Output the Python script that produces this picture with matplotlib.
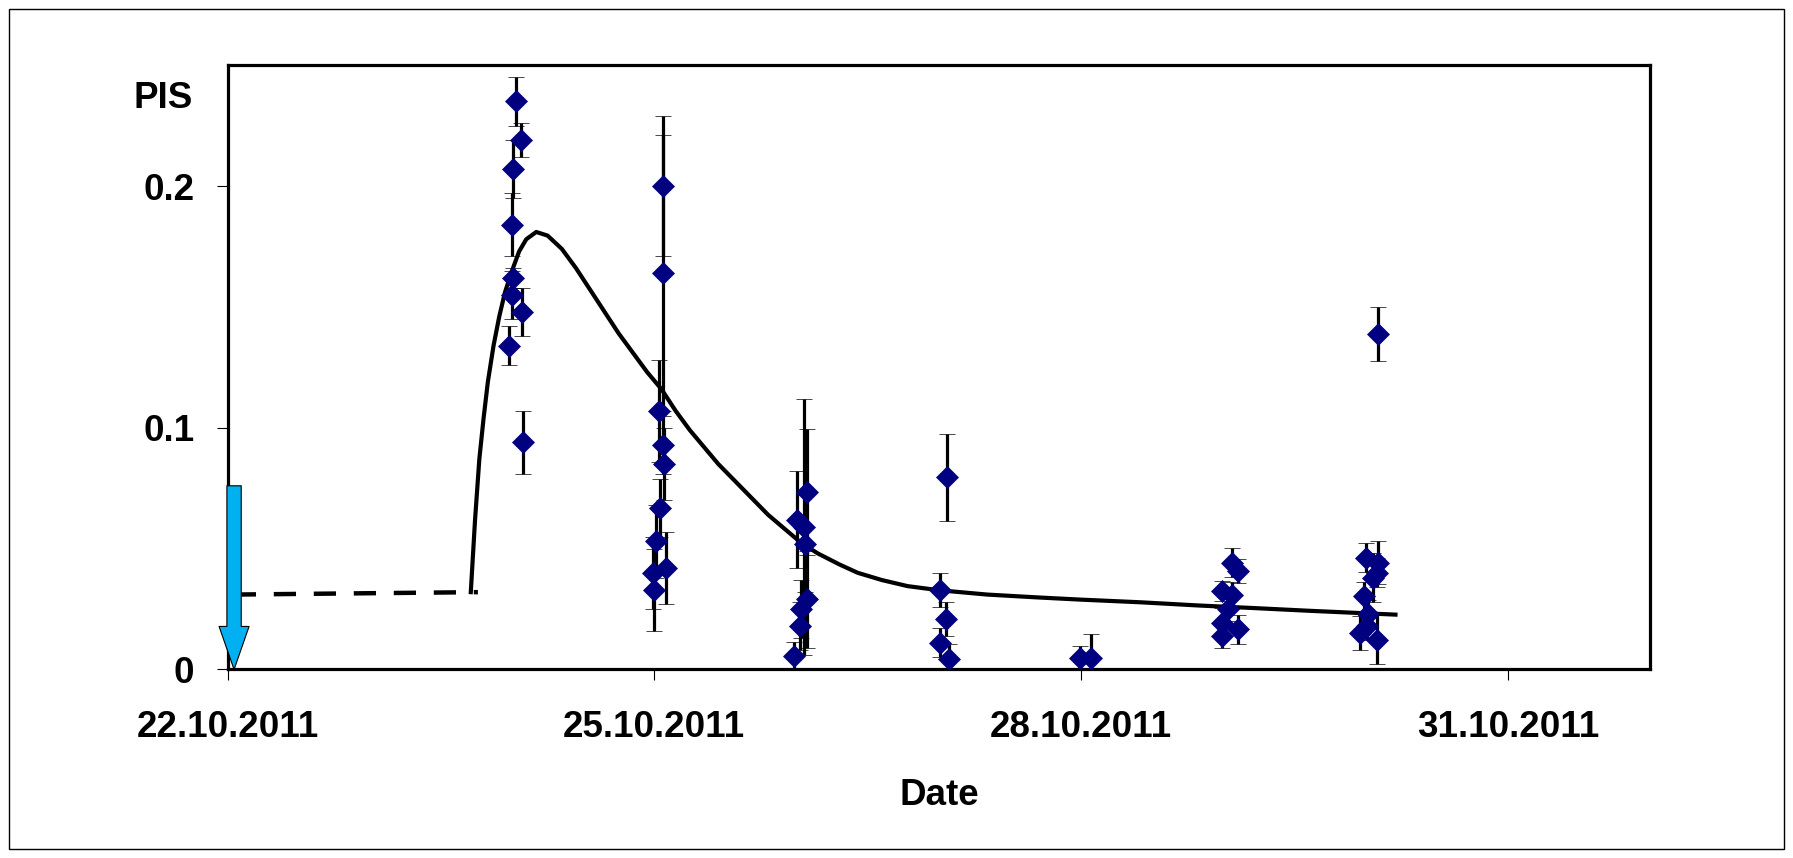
#
# PIS vs date, field campaign 22.10.2011 - 31.10.2011
#
import matplotlib
matplotlib.use('Agg')
import matplotlib.pyplot as plt
from matplotlib.patches import Rectangle
#
# ---------------------------------------------
# data (x = days after 22.10.2011)
#
obs_day = [2.03, 2.06, 2.01, 2.00, 2.01, 2.00, 2.07, 1.98, 2.08,
           3.06, 3.06, 3.03, 3.06, 3.07, 3.04, 3.01, 2.99, 3.085, 3.00,
           4.075, 4.00, 4.055, 4.06, 4.075, 4.03, 4.025, 3.985,
           5.055, 5.01, 5.05, 5.01, 5.075,
           5.99, 6.07,
           7.06, 7.10, 6.99, 7.06, 7.03, 6.99, 7.10, 6.99,
           8.09, 8.00, 8.09, 8.08, 8.05, 7.99, 8.01, 7.96, 8.08, 8.02]
obs_pis = [0.235, 0.219, 0.207, 0.184, 0.162, 0.155, 0.148, 0.134, 0.094,
           0.200, 0.164, 0.107, 0.093, 0.085, 0.067, 0.053, 0.040, 0.042, 0.033,
           0.0735, 0.062, 0.059, 0.052, 0.029, 0.025, 0.018, 0.0055,
           0.0795, 0.033, 0.021, 0.011, 0.0044,
           0.0048, 0.0048,
           0.0442, 0.0407, 0.0325, 0.031, 0.025, 0.0193, 0.0166, 0.0138,
           0.1388, 0.0463, 0.0442, 0.040, 0.038, 0.0304, 0.018, 0.0152, 0.0124, 0.0228]
obs_err = [0.010, 0.007, 0.012, 0.013, 0.004, 0.010, 0.010, 0.008, 0.013,
           0.029, 0.057, 0.021, 0.012, 0.015, 0.012, 0.015, 0.015, 0.015, 0.017,
           0.026, 0.020, 0.053, 0.020, 0.020, 0.012, 0.010, 0.006,
           0.018, 0.007, 0.007, 0.006, 0.006,
           0.005, 0.0097,
           0.006, 0.005, 0.004, 0.005, 0.005, 0.006, 0.006, 0.005,
           0.011, 0.006, 0.009, 0.006, 0.010, 0.006, 0.006, 0.007, 0.010, 0.006]
#
# model curve (dashed = before the event, solid = after)
model_dash_day = [0.044, 1.76]
model_dash_pis = [0.031, 0.032]
#
model_day = [1.71, 1.74, 1.77, 1.80, 1.83, 1.87, 1.91, 1.95, 2.00, 2.05, 2.10, 2.17,
             2.25, 2.35, 2.45, 2.55, 2.65, 2.75, 2.85, 2.95, 3.05, 3.15, 3.25,
             3.35, 3.45, 3.55, 3.65, 3.80, 3.90, 4.03, 4.15, 4.30, 4.43, 4.60,
             4.78, 5.00, 5.34, 5.70, 6.00, 6.42, 6.82, 7.22, 7.60, 8.21]
model_pis = [0.032, 0.062, 0.087, 0.104, 0.119, 0.134, 0.146, 0.156, 0.165, 0.173, 0.178, 0.181,
             0.1795, 0.174, 0.166, 0.157, 0.148, 0.139, 0.131, 0.123, 0.116, 0.107, 0.099,
             0.092, 0.085, 0.079, 0.073, 0.064, 0.059, 0.0525, 0.048, 0.0435, 0.040, 0.037,
             0.0345, 0.0328, 0.0310, 0.0298, 0.0289, 0.0278, 0.0265, 0.0254, 0.0243, 0.0227]
#
x_ticks  = [0, 3, 6, 9]
x_labels = ['22.10.2011', '25.10.2011', '28.10.2011', '31.10.2011']
y_ticks  = [0, 0.1, 0.2]
y_labels = ['0', '0.1', '0.2']
#
# ---------------------------------------------
#
plt.rcParams['font.family'] = ['Liberation Sans', 'DejaVu Sans']
plt.rcParams['font.weight'] = 'bold'
#
fig = plt.figure(figsize=(17.93, 8.58), dpi=100)
ax = fig.add_axes([0.1269, 0.2197, 0.7934, 0.7043])
#
# outer chart frame
fig.patches.append(Rectangle((0.005, 0.0105), 0.990, 0.979,
                             transform=fig.transFigure, fill=False,
                             edgecolor='black', linewidth=1.0))
#
ax.plot(model_dash_day, model_dash_pis, color='black', linewidth=3.2,
        dashes=(5, 4), zorder=2)
ax.plot(model_day, model_pis, color='black', linewidth=3.0,
        solid_joinstyle='round', zorder=2)
#
ax.errorbar(obs_day, obs_pis, yerr=obs_err, fmt='D', color='#000080',
            markersize=11.5, markeredgewidth=0.5, ecolor='black',
            elinewidth=2.3, capsize=5.5, capthick=2.3, zorder=3)
#
# event arrow
ax.annotate('', xy=(0.046, 0.0), xytext=(0.046, 0.076),
            arrowprops=dict(arrowstyle='simple,head_length=31,head_width=21.6,tail_width=10.3',
                            mutation_scale=1, fc='#00B0F0', ec='black', lw=0.8,
                            shrinkA=0, shrinkB=0),
            zorder=5, annotation_clip=False)
#
ax.set_xlim(0, 10)
ax.set_ylim(0, 0.25)
ax.set_xticks(x_ticks)
ax.set_xticklabels(x_labels)
ax.set_yticks(y_ticks)
ax.set_yticklabels(y_labels)
ax.tick_params(axis='both', direction='out', length=8, width=0.8,
               labelsize=26.5, color='black')
ax.tick_params(axis='x', pad=21)
ax.tick_params(axis='y', pad=16)
for s in ax.spines.values():
    s.set_linewidth(2.3)
#
ax.set_xlabel('Date', fontsize=26.5, fontweight='bold', labelpad=24)
fig.text(193/1793, 1 - 99/858, 'PIS', fontsize=26.5, fontweight='bold',
         ha='right', va='center')
#
fig.savefig('out.png', dpi=100)
